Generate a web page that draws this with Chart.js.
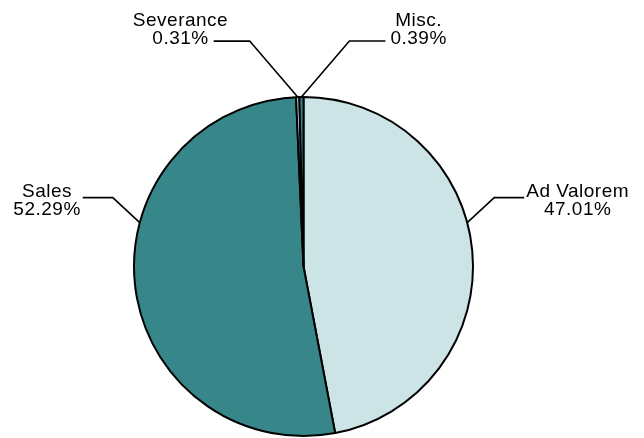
<!DOCTYPE html>
<html lang="en">
<head>
    <meta charset="UTF-8">
    <title>Revenue Share</title>
    <style>
        body {
            margin: 0;
            background-color: #fff;
        }
        #chart-wrap {
            width: 644px;
            height: 438px;
        }
    </style>
</head>
<body>

<div id="chart-wrap">
    <canvas id="revenuePie" width="644" height="438"></canvas>
</div>

<script src="https://cdn.jsdelivr.net/npm/chart.js"></script>
<script>
    // values (percent of total)
    const categories = ['Ad Valorem', 'Sales', 'Severance', 'Misc.'];
    const shares = [47.01, 52.29, 0.31, 0.39];

    const LIGHT = '#cde4e6';
    const TEAL = '#37878a';

    // draws two-line labels with elbow leader lines
    const leaderLabels = {
        id: 'leaderLabels',
        afterDatasetsDraw(chart) {
            const ctx = chart.ctx;
            const arcs = chart.getDatasetMeta(0).data;
            const total = shares.reduce((a, b) => a + b, 0);
            const maxTilt = 75 * Math.PI / 180;
            let smallSides = [];

            ctx.save();
            ctx.font = '19px "Liberation Sans", Arial, sans-serif';
            ctx.letterSpacing = '0.5px';
            ctx.fillStyle = '#000';
            ctx.strokeStyle = '#000';
            ctx.lineWidth = 1.6;
            ctx.textAlign = 'center';
            ctx.textBaseline = 'alphabetic';

            arcs.forEach((arc, i) => {
                const p = arc.getProps(['x', 'y', 'startAngle', 'endAngle', 'outerRadius'], true);
                const pct = shares[i] / total * 100;
                const small = pct < 5;

                // angle measured clockwise from 12 o'clock
                let a = (p.startAngle + p.endAngle) / 2 + Math.PI / 2;
                while (a > Math.PI) a -= 2 * Math.PI;
                while (a <= -Math.PI) a += 2 * Math.PI;
                if (Math.abs(a) > maxTilt) a = Math.sign(a) * maxTilt;

                let side = Math.sin(a) < 0 ? -1 : 1;
                if (small) {
                    if (smallSides.includes(side)) side = -side;
                    smallSides.push(side);
                }

                const ax = p.x + p.outerRadius * Math.sin(a);
                const ay = p.y - p.outerRadius * Math.cos(a);
                const ex = ax + side * (small ? 48 : 27);
                const ey = ay - (small ? 56 : 25);
                const lx = ex + side * (small ? 36 : 30);

                ctx.beginPath();
                ctx.moveTo(ax, ay);
                ctx.lineTo(ex, ey);
                ctx.lineTo(lx, ey);
                ctx.stroke();

                const line1 = categories[i];
                const line2 = shares[i].toFixed(2) + '%';
                const w1 = ctx.measureText(line1).width;
                const w2 = ctx.measureText(line2).width;
                let cx, c1, c2;
                if (small) {
                    cx = lx + side * (5 + w2 / 2);
                    c2 = ey - 3.5;
                    c1 = c2 - 18.5;
                } else {
                    cx = lx + side * (2 + Math.max(w1, w2) / 2);
                    c1 = ey - 7.5;
                    c2 = c1 + 18.5;
                }
                const capOff = 0.358 * 19;
                ctx.fillText(line1, cx, c1 + capOff);
                ctx.fillText(line2, cx, c2 + capOff);
            });
            ctx.restore();
        }
    };

    const pieConfig = {
        type: 'pie',
        data: {
            labels: categories,
            datasets: [{
                data: shares,
                backgroundColor: [LIGHT, TEAL, LIGHT, TEAL],
                borderColor: '#000',
                borderWidth: 2
            }]
        },
        options: {
            responsive: false,
            animation: false,
            layout: {
                padding: { left: 133, right: 170, top: 96, bottom: 1 }
            },
            plugins: {
                legend: { display: false },
                tooltip: { enabled: false }
            }
        },
        plugins: [leaderLabels]
    };

    window.onload = function() {
        const ctx = document.getElementById('revenuePie').getContext('2d');
        window.revenuePie = new Chart(ctx, pieConfig);
    };
</script>

</body>
</html>
